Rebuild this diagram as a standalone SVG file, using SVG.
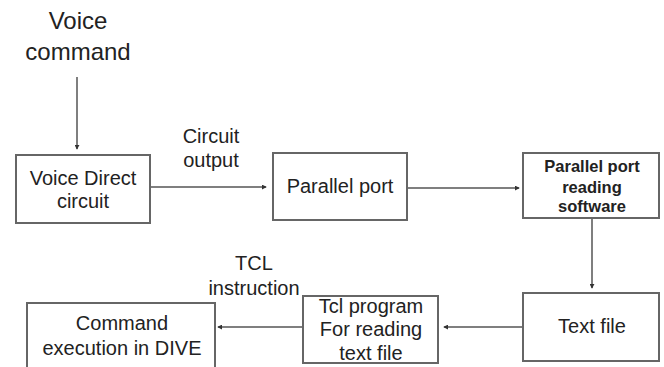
<svg xmlns="http://www.w3.org/2000/svg" width="664" height="367" viewBox="0 0 664 367">
<style>
.box{fill:#fff;stroke:#666;stroke-width:2}
.t{font-family:"Liberation Sans",Arial,sans-serif;font-size:20px;fill:#222;text-anchor:middle}
.b{font-weight:bold;font-size:16.5px}
.big{font-size:24px}
.c{stroke:#555;stroke-width:1.5;fill:none;marker-end:url(#ah)}
</style>
<defs>
<marker id="ah" viewBox="0 0 6 6" refX="5" refY="3" markerWidth="5" markerHeight="5" markerUnits="userSpaceOnUse" orient="auto">
<path d="M0,0 L6,3 L0,6 z" fill="#333"/>
</marker>
</defs>
<rect width="664" height="367" fill="#fff"/>
<g id="connectors">
<line class="c" x1="77" y1="77" x2="77" y2="149"/>
<line class="c" x1="150" y1="187" x2="266" y2="187"/>
<line class="c" x1="407" y1="188" x2="519" y2="188"/>
<line class="c" x1="592" y1="218" x2="592" y2="288"/>
<line class="c" x1="523" y1="327" x2="444" y2="327"/>
<line class="c" x1="303" y1="327" x2="218" y2="327"/>
</g>
<g id="voice-command">
<text class="t big" x="78" y="29">Voice</text>
<text class="t big" x="78" y="60">command</text>
</g>
<g id="circuit-output">
<text class="t" x="211" y="143">Circuit</text>
<text class="t" x="211" y="167">output</text>
</g>
<g id="tcl-instruction">
<text class="t" x="254" y="270">TCL</text>
<text class="t" x="254" y="295">instruction</text>
</g>
<g id="voice-direct">
<rect class="box" x="16" y="155" width="134" height="68"/>
<text class="t" x="83" y="185">Voice Direct</text>
<text class="t" x="83" y="208">circuit</text>
</g>
<g id="parallel-port">
<rect class="box" x="273" y="153" width="134" height="67"/>
<text class="t" x="340" y="193">Parallel port</text>
</g>
<g id="parallel-software">
<rect class="box" x="523" y="153" width="136" height="65"/>
<text class="t b" x="592" y="172">Parallel port</text>
<text class="t b" x="592" y="193">reading</text>
<text class="t b" x="592" y="212">software</text>
</g>
<g id="text-file">
<rect class="box" x="523" y="293" width="136" height="68"/>
<text class="t" x="592" y="333">Text file</text>
</g>
<g id="tcl-program">
<rect class="box" x="303" y="296" width="135" height="67"/>
<text class="t" x="371" y="313">Tcl program</text>
<text class="t" x="371" y="336">For reading</text>
<text class="t" x="371" y="360">text file</text>
</g>
<g id="command-exec">
<rect class="box" x="27" y="303" width="188" height="70"/>
<text class="t" x="122" y="330">Command</text>
<text class="t" x="122" y="355">execution in DIVE</text>
</g>
</svg>
